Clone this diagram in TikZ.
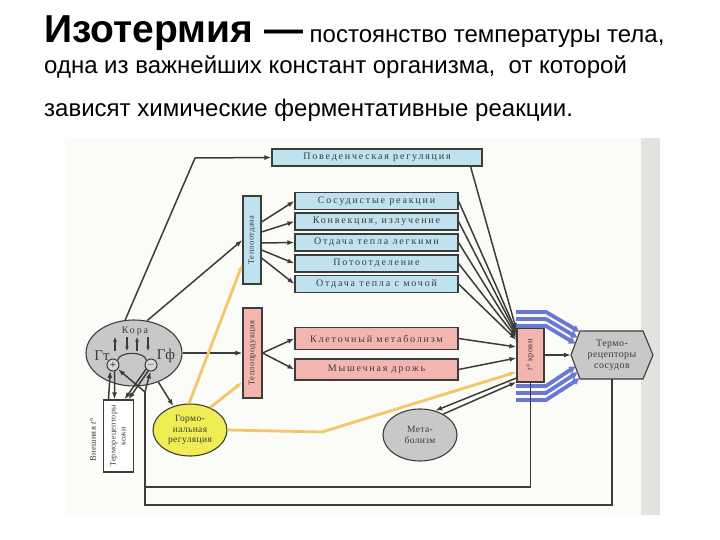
\documentclass[tikz,border=0pt]{standalone}
\usepackage{fontspec}
\usepackage{graphicx}
\setmainfont{Liberation Serif}
\newfontfamily\headfont{Liberation Sans}
\newfontfamily\labfont[LetterSpace=18]{Liberation Serif}
\newfontfamily\rotfont[LetterSpace=4]{Liberation Serif}
\usetikzlibrary{arrows.meta,shapes.geometric}

\definecolor{ink}{RGB}{60,60,60}
\definecolor{boxblue}{RGB}{190,226,238}
\definecolor{boxpink}{RGB}{243,182,174}
\definecolor{boxgrey}{RGB}{200,200,200}
\definecolor{hormyellow}{RGB}{240,236,84}
\definecolor{hormline}{RGB}{245,198,105}
\definecolor{bandblue}{RGB}{105,120,210}
\definecolor{photobg}{RGB}{251,251,248}
\definecolor{photoedge}{RGB}{226,226,222}

\begin{document}
\begin{tikzpicture}[x=1pt, y=-1pt, >={Latex[length=7pt,width=5pt]},
	conn/.style={line width=1.5pt, draw=ink},
	hline/.style={line width=2.8pt, draw=hormline},
	band/.style={line width=3.8pt, draw=bandblue, >={Latex[length=7pt,width=8pt]}},
	lab/.style={font=\labfont\fontsize{10}{11}\selectfont, text=ink},
	rotlab/.style={font=\rotfont\fontsize{8.5}{9.5}\selectfont, text=ink},
	bluebox/.style={lab, draw=ink, line width=1.1pt, fill=boxblue, minimum width=163pt, minimum height=17pt, inner sep=0pt},
	pinkbox/.style={lab, draw=ink, line width=1.1pt, fill=boxpink, minimum width=163pt, minimum height=21pt, inner sep=0pt},
	vbox/.style={rotlab, draw=ink, line width=1.1pt, inner sep=0pt},
	oval/.style={lab, ellipse, draw=ink, line width=1.1pt, inner sep=0pt, align=center},
	sign/.style={circle, draw=ink, line width=1pt, fill=boxgrey!70, inner sep=0pt, minimum size=12pt, font=\fontsize{11}{11}\selectfont\bfseries, text=ink},
	headtext/.style={anchor=base west, inner sep=0pt, font=\headfont\fontsize{24}{28}\selectfont}]
	\useasboundingbox (0,0) rectangle (720,540);
	\fill[white] (0,0) rectangle (720,540);
	\fill[photobg] (65,138) rectangle (660,515);
	\fill[photoedge] (641,138) rectangle (660,515);
	
	% heading
	\node[headtext] (head1) at (44,43) {{\fontsize{39}{44}\selectfont\bfseries Изотермия —} постоянство температуры тела,};
	\node[headtext] (head2) at (44,74) {одна из важнейших констант организма,\ \ от которой};
	\node[headtext] (head3) at (44,117) {зависят химические ферментативные реакции.};
	
	% boxes
	\node[bluebox, minimum width=210pt] (behav) at (377,157.5) {Поведенческая регуляция};
	\node[vbox, fill=boxblue, minimum width=18pt, minimum height=88pt] (otd) at (252,240) {\rotatebox{90}{Теплоотдача}};
	\node[bluebox] (b1) at (376.5,201) {Сосудистые реакции};
	\node[bluebox] (b2) at (376.5,221.5) {Конвекция, излучение};
	\node[bluebox] (b3) at (376.5,242.5) {Отдача тепла легкими};
	\node[bluebox] (b4) at (376.5,263.5) {Потоотделение};
	\node[bluebox] (b5) at (376.5,284) {Отдача тепла с мочой};
	\node[vbox, fill=boxpink, minimum width=19pt, minimum height=90pt] (prod) at (252.5,353) {\rotatebox{90}{Теплопродукция}};
	\node[pinkbox, minimum height=22pt] (kl) at (376.5,338.5) {Клеточный метаболизм};
	\node[pinkbox] (my) at (376.5,369.5) {Мышечная дрожь};
	\node[vbox, fill=boxpink, minimum width=27pt, minimum height=54pt] (tbl) at (530.5,355) {\rotatebox{90}{\textit{t}° крови}};
	
	% hexagon
	\coordinate (termo) at (612,355);
	\filldraw[draw=ink, line width=1.1pt, fill=boxgrey] (571,355) -- (580,331) -- (643,331) -- (653,355) -- (643,379) -- (580,379) -- cycle;
	\node[lab, align=center, font=\rotfont\fontsize{10}{11}\selectfont] (termotxt) at (termo) {Термо-\\рецепторы\\сосудов};
	\coordinate (termoW) at (571,355);
	\coordinate (termoS) at (612,379);
	
	% ovals
	\node[oval, fill=boxgrey, minimum width=96pt, minimum height=66pt] (kora) at (134,353) {};
	\node[oval, fill=hormyellow, minimum width=74pt, minimum height=52pt, font=\rotfont\fontsize{9.5}{10.5}\selectfont] (horm) at (190,430) {Гормо-\\нальная\\регуляция};
	\node[oval, fill=boxgrey, minimum width=74pt, minimum height=52pt, font=\rotfont\fontsize{9.5}{10.5}\selectfont] (metab) at (420,435) {Мета-\\болизм};
	
	% inside the cortex oval
	\node[lab] (koratxt) at (135,331) {Кора};
	\node[lab, font=\fontsize{15}{15}\selectfont] (gt) at (102,356) {Гт};
	\node[lab, font=\fontsize{15}{15}\selectfont] (gf) at (166,356) {Гф};
	\node[sign] (plus) at (113,365) {+};
	\node[sign] (minus) at (151,365) {$-$};
	\foreach \x in {115,137}
		\draw[line width=1.1pt, draw=ink, ->, >={Latex[length=4.5pt,width=4pt]}] (\x,351) -- (\x,337);
	\foreach \x in {127,148}
		\draw[line width=1.1pt, draw=ink, ->, >={Latex[length=4.5pt,width=4pt]}] (\x,337) -- (\x,351);
	\draw[line width=1.1pt, draw=ink] (plus.north east) .. controls (119,351) and (145,351) .. (minus.north west);
	
	% skin receptors
	\node[vbox, fill=white, minimum width=30pt, minimum height=72pt, font=\rotfont\fontsize{8}{10}\selectfont] (skin) at (118.5,436) {\rotatebox{90}{\begin{tabular}{@{}c@{}}Терморецепторы\\кожи\end{tabular}}};
	\node[rotlab] (outer) at (93,440) {\rotatebox{90}{Внешняя \textit{t}°}};
	\draw[conn, ->] ([xshift=-10pt]skin.north) -- (plus.-115);
	\draw[conn, ->] (plus.-75) -- ([xshift=-4pt]skin.north);
	\draw[conn, ->] (minus.-140) -- ([xshift=6pt]skin.north);
	\draw[conn, ->] (minus.-115) -- ([xshift=10pt]skin.north);
	
	% from the cortex
	\coordinate (bend1) at (195,158);
	\draw[conn, ->] (kora.105) -- (bend1) -- (behav.west);
	\draw[conn, ->] (kora.68) -- (otd.west);
	\draw[conn, ->] (kora.east) -- (prod.west);
	\draw[conn, ->] (kora.-50) -- (horm.125);
	
	% heat loss and heat production
	\foreach \i/\s in {1/18,2/8,3/-3,4/-10,5/-18}
		\draw[conn, ->] ([yshift=\s pt]otd.east) -- (b\i.west);
	\draw[conn, ->] (prod.east) -- (kl.west);
	\draw[conn, ->] (prod.east) -- (my.west);
	
	% into blood temperature
	\draw[conn, ->] ([xshift=-12pt]behav.south east) -- ([yshift=25pt]tbl.west);
	\foreach \i/\s in {1/23,2/21,3/19,4/17,5/15}
		\draw[conn, ->] (b\i.east) -- ([yshift=\s pt]tbl.west);
	\draw[conn, ->] (kl.east) -- ([yshift=8pt]tbl.west);
	\draw[conn, ->] (my.east) -- ([yshift=-3pt]tbl.west);
	\draw[conn, ->] ([yshift=-23pt]tbl.west) -- (metab.58);
	\draw[conn, ->] (metab.42) -- ([yshift=-27pt]tbl.west);
	\draw[conn, ->] (tbl.east) -- (termoW);
	
	% hormonal lines
	\coordinate (bend2) at (322,432);
	\draw[hline, ->] (horm.92) -- ([yshift=-24pt]otd.west);
	\draw[hline, ->] (horm.48) -- ([yshift=-29pt]prod.west);
	\draw[hline, ->] (horm.east) -- (bend2) -- ([yshift=-17pt]tbl.west);
	
	% blue bands
	\foreach \y/\ex/\ey in {312/580/332,319/578/338,326/576/344}
		\draw[band, ->] (516,\y) -- (546,\y) -- (\ex,\ey);
	\foreach \y/\ex/\ey in {386/576/366,393/578/372,400/580/378}
		\draw[band, ->] (516,\y) -- (546,\y) -- (\ex,\ey);
	
	% feedback loops
	\coordinate (loopin) at (145,487);
	\coordinate (loopout) at (145,505);
	\coordinate (fbtop) at (145,392);
	\draw[conn] (tbl.south) |- (loopin);
	\draw[conn] (termoS) |- (loopout) -- (fbtop);
	\draw[conn, ->] (fbtop) -- (plus.-40);
	\draw[conn, ->] (fbtop) -- (minus.-95);
\end{tikzpicture}
\end{document}
